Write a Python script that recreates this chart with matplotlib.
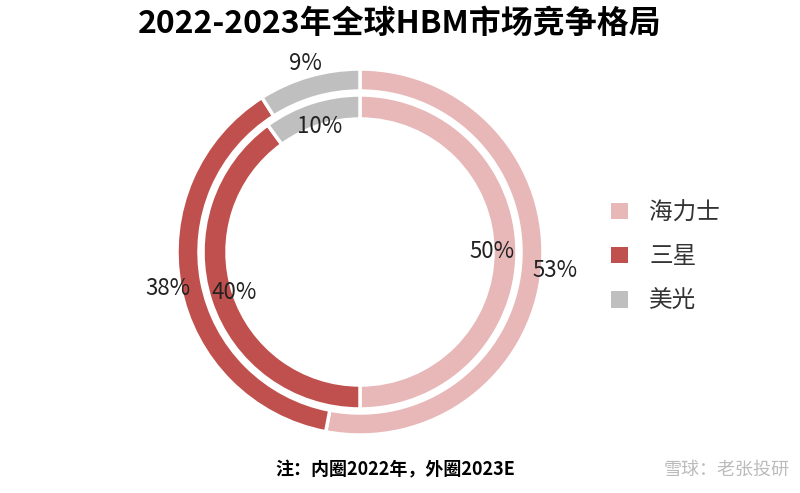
import matplotlib
matplotlib.use("Agg")
import matplotlib.pyplot as plt
from matplotlib.patches import Patch

plt.rcParams['font.family'] = ['Noto Sans CJK SC', 'DejaVu Sans']

companies = ['海力士', '三星', '美光']
share_2022 = [50, 40, 10]
share_2023 = [53, 38, 9]
colors = ['#E8B7B7', '#C0504D', '#BFBFBF']

fig = plt.figure(figsize=(8, 4.93), dpi=100)
ax = fig.add_axes([(360-190)/800, 1-(252+190)/493, 380/800, 380/493])

r_out = 183/190
w_out = 22/190
r_in = 157/190
w_in = 24/190
fmt = lambda p: f'{round(p)}%'

ax.pie(share_2023, colors=colors, startangle=90, counterclock=False, radius=r_out,
       wedgeprops=dict(width=w_out, edgecolor='white', linewidth=2.5),
       autopct=fmt, pctdistance=1.07, textprops=dict(fontsize=16, color='#222222'))
ax.pie(share_2022, colors=colors, startangle=90, counterclock=False, radius=r_in,
       wedgeprops=dict(width=w_in, edgecolor='white', linewidth=2.5),
       autopct=fmt, pctdistance=0.84, textprops=dict(fontsize=16, color='#222222'))
ax.set_xlim(-1, 1); ax.set_ylim(-1, 1); ax.set_aspect('equal'); ax.axis('off')

handles = [Patch(facecolor=c) for c in colors]
fig.legend(handles, companies, loc='center left', bbox_to_anchor=(590/800, 1-257/493),
           frameon=False, fontsize=17, handlelength=0.7, handleheight=0.7,
           labelspacing=0.9, handletextpad=0.9, labelcolor='#333333')

fig.text(0.5, 1-24/493, '2022-2023年全球HBM市场竞争格局', ha='center', va='center',
         fontsize=23, fontweight='bold')
fig.text(395/800, 1-470/493, '注：内圈2022年，外圈2023E', ha='center', va='center',
         fontsize=13, fontweight='bold')
fig.text(790/800, 1-470/493, '雪球：老张投研', ha='right', va='center',
         fontsize=13, color='#bbbbbb')

fig.savefig('out.png', dpi=100, facecolor='white')
